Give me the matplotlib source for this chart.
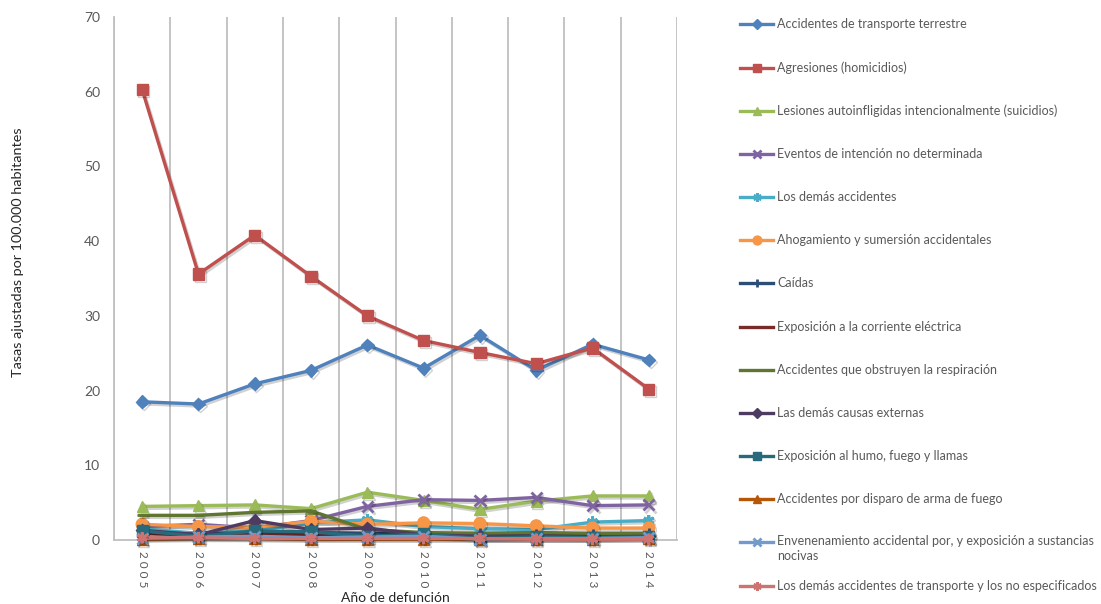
import matplotlib
matplotlib.use("Agg")
import matplotlib.pyplot as plt
from matplotlib.lines import Line2D
import matplotlib.patheffects as pe

plt.rcParams['font.family'] = ['Lato', 'DejaVu Sans']

years = ['2005', '2006', '2007', '2008', '2009', '2010', '2011', '2012', '2013', '2014']

labels = [
    'Accidentes de transporte terrestre',
    'Agresiones (homicidios)',
    'Lesiones autoinfligidas intencionalmente (suicidios)',
    'Eventos de intención no determinada',
    'Los demás accidentes',
    'Ahogamiento y sumersión accidentales',
    'Caídas',
    'Exposición a la corriente eléctrica',
    'Accidentes que obstruyen la respiración',
    'Las demás causas externas',
    'Exposición al humo, fuego y llamas',
    'Accidentes por disparo de arma de fuego',
    'Envenenamiento accidental por, y exposición a sustancias\nnocivas',
    'Los demás accidentes de transporte y los no especificados',
]

transporte = [18.5, 18.2, 20.9, 22.7, 26.1, 23.0, 27.4, 22.7, 26.2, 24.1]
agresiones = [60.3, 35.6, 40.8, 35.3, 30.0, 26.7, 25.1, 23.6, 25.7, 20.2]
suicidios = [4.5, 4.6, 4.7, 4.2, 6.4, 5.3, 4.1, 5.2, 5.9, 5.9]
eventos = [1.8, 2.1, 1.6, 2.6, 4.5, 5.4, 5.3, 5.7, 4.6, 4.7]
demas_accidentes = [1.5, 0.9, 1.2, 2.3, 2.7, 1.8, 1.5, 1.4, 2.4, 2.6]
ahogamiento = [2.1, 1.8, 1.7, 2.5, 2.1, 2.3, 2.2, 1.9, 1.6, 1.6]
caidas = [1.0, 0.8, 1.0, 1.0, 0.9, 0.8, 0.8, 0.7, 0.7, 0.8]
corriente = [0.9, 0.7, 0.7, 0.6, 0.6, 0.5, 0.5, 0.5, 0.5, 0.5]
obstruyen = [3.3, 3.3, 3.7, 3.9, 1.4, 1.0, 0.9, 1.0, 0.9, 0.9]
demas_causas = [1.3, 0.7, 2.6, 1.4, 1.6, 0.7, 0.5, 0.5, 0.4, 0.5]
humo = [1.2, 0.5, 1.2, 1.1, 0.5, 0.8, 0.2, 0.4, 0.3, 0.4]
disparo = [0.1, 0.2, 0.2, 0.1, 0.1, 0.1, 0.1, 0.1, 0.1, 0.2]
envenenamiento = [0.2, 0.4, 0.5, 0.3, 0.4, 0.5, 0.1, 0.2, 0.2, 0.3]
otros_transporte = [0.3, 0.3, 0.2, 0.2, 0.2, 0.2, 0.2, 0.1, 0.1, 0.1]

series = [transporte, agresiones, suicidios, eventos, demas_accidentes, ahogamiento,
          caidas, corriente, obstruyen, demas_causas, humo, disparo, envenenamiento,
          otros_transporte]

colors = ['#4F81BD', '#C0504D', '#9BBB59', '#8064A2', '#4BACC6', '#F79646',
          '#2C4D75', '#772C2A', '#5F7530', '#4D3B62', '#276A7C', '#B65708',
          '#729ACA', '#CD7371']
asterisk = (6, 2, 0)
markers = ['D', 's', '^', 'x', asterisk, 'o', '+', '_', '_', 'D', 's', '^', 'x', asterisk]
msizes = [6.5, 8, 8, 8, 8, 8.5, 8, 7, 7, 6.5, 8, 8, 8, 8]

fig = plt.figure(figsize=(11.01, 6.04), dpi=100)
W, H = 1101, 604
ax = fig.add_axes([114 / W, 1 - 540 / H, (677 - 114) / W, (540 - 17) / H])

x = list(range(len(years)))
shadow = [pe.SimpleLineShadow(offset=(1.2, -1.5), shadow_color='black', alpha=0.18),
          pe.Normal()]

for i, (vals, c, m, ms) in enumerate(zip(series, colors, markers, msizes)):
    mew = 2 if m in ('x', asterisk, '+', '_') else 1
    ax.plot(x, vals, color=c, lw=2.4, marker=m, markersize=ms, markeredgewidth=mew,
            markerfacecolor=c, markeredgecolor=c, zorder=3 + i, path_effects=shadow,
            clip_on=False)

ax.set_xlim(-0.5, len(years) - 0.5)
ax.set_ylim(0, 70)
ax.set_yticks(range(0, 71, 10))
ax.set_xticks(x)
ax.set_xticklabels([' '.join(y) for y in years], rotation=-90, fontsize=8.5, color='#595959')
ax.set_xticks([k - 0.5 for k in range(len(years) + 1)], minor=True)
ax.grid(True, which='minor', axis='x', color='#BFBFBF', lw=1.3)
ax.grid(False, which='major')
ax.tick_params(axis='x', which='both', length=0, pad=8)
ax.tick_params(axis='y', length=0, pad=10, labelsize=10, labelcolor='#595959')
for s in ['top', 'right']:
    ax.spines[s].set_visible(False)
ax.spines['left'].set_color('#BFBFBF')
ax.spines['bottom'].set_color('#BFBFBF')
ax.spines['left'].set_linewidth(1.3)
ax.spines['bottom'].set_linewidth(1.3)

fig.text(18 / W, 1 - 252 / H, 'Tasas ajustadas por 100.000 habitantes', rotation=90,
         ha='center', va='center', fontsize=10.4, color='#262626')
fig.text(395 / W, 1 - 598 / H, 'Año de defunción', ha='center', va='center',
         fontsize=10, color='#262626')

# Legend drawn manually at the right
ys = [24, 68, 111, 154, 197, 240, 283, 327, 370, 413, 456, 499, 542, 586]
for lab, c, m, ms, yy in zip(labels, colors, markers, msizes, ys):
    yf = 1 - yy / H
    mew = 2 if m in ('x', asterisk, '+', '_') else 1
    fig.add_artist(Line2D([740 / W, 773 / W], [yf, yf], transform=fig.transFigure,
                          color=c, lw=2.4))
    fig.add_artist(Line2D([756.5 / W], [yf], transform=fig.transFigure, color=c,
                          marker=m, markersize=ms * 0.75, markeredgewidth=mew,
                          markerfacecolor=c, markeredgecolor=c, lw=0))
    if '\n' in lab:
        fig.text(777 / W, yf + 7 / H, lab, ha='left', va='top', fontsize=9,
                 color='#595959', linespacing=1.25)
    else:
        fig.text(777 / W, yf, lab, ha='left', va='center', fontsize=9, color='#595959')

fig.savefig('out.png', dpi=100)
